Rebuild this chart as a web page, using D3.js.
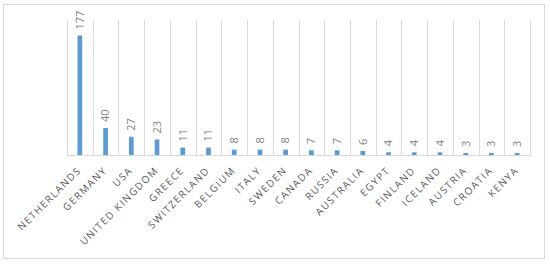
<!DOCTYPE html>
<html>
<head>
<meta charset="utf-8">
<script src="https://cdn.jsdelivr.net/npm/d3@7"></script>
<style>
  body { margin: 0; background: #fff; }
  text { font-family: "Open Sans", "Noto Sans", sans-serif; }
</style>
</head>
<body>
<div id="chart"></div>
<script>
var countries = ["NETHERLANDS", "GERMANY", "USA", "UNITED KINGDOM", "GREECE", "SWITZERLAND",
  "BELGIUM", "ITALY", "SWEDEN", "CANADA", "RUSSIA", "AUSTRALIA", "EGYPT", "FINLAND",
  "ICELAND", "AUSTRIA", "CROATIA", "KENYA"];
var counts = [177, 40, 27, 23, 11, 11, 8, 8, 8, 7, 7, 6, 4, 4, 4, 3, 3, 3];
var yMax = 200;

(function() {
    var width = 550, height = 264;
    var left = 67, right = 530, top = 20, bottom = 155;

    var svg = d3.select("#chart")
    .append("svg")
    .attr("width", width)
    .attr("height", height);

    // outer frame
    svg.append("rect")
    .attr("x", 3.5).attr("y", 4.5)
    .attr("width", 541).attr("height", 254)
    .attr("fill", "#fff")
    .attr("stroke", "#d9d9d9")
    .attr("stroke-width", 1);

    var data = countries.map((c, i) => ({name: c, value: counts[i]}));

    const xScale = d3.scaleBand()
    .range([left, right])
    .domain(countries);

    const yScale = d3.scaleLinear()
    .range([bottom, top])
    .domain([0, yMax]);

    // vertical grid lines at category boundaries
    var bounds = countries.map(c => xScale(c)).concat([right]);
    svg.selectAll(".grid")
    .data(bounds)
    .enter()
    .append("line")
    .attr("x1", d => Math.round(d) + 0.5)
    .attr("x2", d => Math.round(d) + 0.5)
    .attr("y1", top)
    .attr("y2", bottom)
    .attr("stroke", "#d9d9d9");

    // baseline
    svg.append("line")
    .attr("x1", left).attr("x2", right + 1)
    .attr("y1", bottom + 0.5).attr("y2", bottom + 0.5)
    .attr("stroke", "#d9d9d9");

    var barW = 4.7;
    const bars = svg.selectAll(".bar")
    .data(data)
    .enter()
    .append("g");

    bars.append("rect")
    .attr("x", d => xScale(d.name) + xScale.bandwidth() / 2 - barW / 2)
    .attr("y", d => yScale(d.value))
    .attr("width", barW)
    .attr("height", d => bottom - yScale(d.value))
    .attr("fill", "#5b9bd5");

    bars.append("text")
    .attr("transform", d => `translate(${xScale(d.name) + xScale.bandwidth() / 2}, ${yScale(d.value) - 6}) rotate(-90)`)
    .attr("dy", "0.35em")
    .attr("text-anchor", "start")
    .attr("fill", "#7f7f7f")
    .attr("font-size", "11px")
    .text(d => d.value);

    // category labels
    svg.selectAll(".cat")
    .data(countries)
    .enter()
    .append("text")
    .attr("transform", d => `translate(${xScale(d) + xScale.bandwidth() / 2 + 2}, ${bottom + 16}) rotate(-45)`)
    .attr("text-anchor", "end")
    .attr("fill", "#595959")
    .attr("font-size", "10px")
    .attr("letter-spacing", "1.4px")
    .text(d => d);
})();
</script>
</body>
</html>
